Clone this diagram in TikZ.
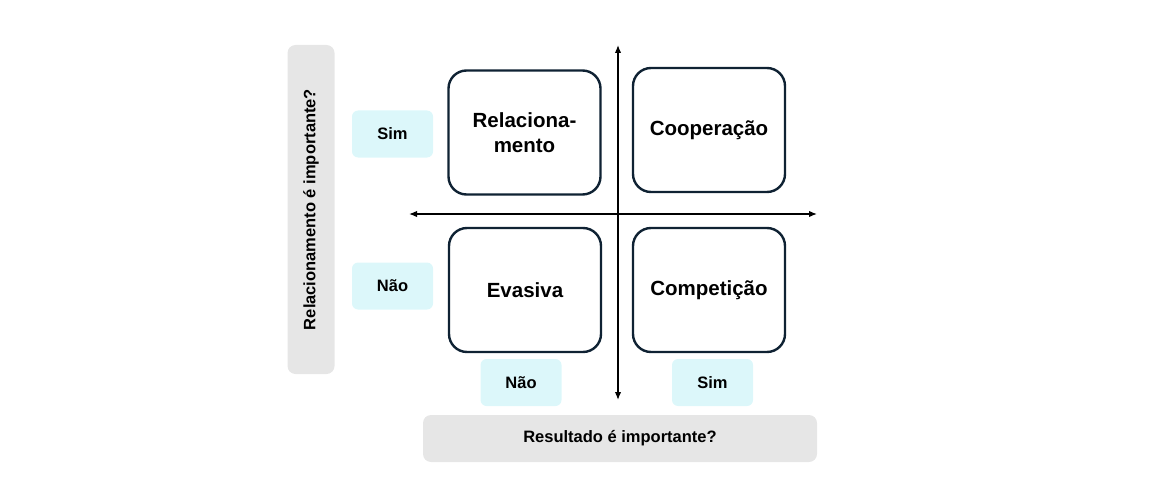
\documentclass[tikz,border=0pt]{standalone}
\usepackage{fontspec}
\setmainfont{Liberation Sans}
\usetikzlibrary{arrows.meta}
\definecolor{navy}{HTML}{0F2233}
\definecolor{graybox}{HTML}{E6E6E6}
\definecolor{cyanbox}{HTML}{DCF7FA}
\tikzset{
  quad/.style={draw=navy, line width=2.4pt, rounded corners=18pt, fill=white,
    minimum width=152pt, minimum height=124pt, align=center,
    font=\fontsize{20.5}{25}\selectfont\bfseries},
  answer/.style={fill=cyanbox, rounded corners=6pt, minimum width=81pt, minimum height=47pt,
    font=\fontsize{16.5}{20}\selectfont\bfseries},
  question/.style={fill=graybox, rounded corners=8pt,
    font=\fontsize{16.5}{20}\selectfont\bfseries},
  axis/.style={line width=1.4pt, {Latex[length=8pt,width=6.5pt]}-{Latex[length=8pt,width=6.5pt]}}
}
\begin{document}
\begin{tikzpicture}[x=1pt,y=-1pt]
\useasboundingbox (0,0) rectangle (1150,500);
% axes
\coordinate (xl) at (409,214);
\coordinate (xr) at (817,214);
\coordinate (yt) at (618,45);
\coordinate (yb) at (618,400);
\draw[axis] (xl) -- (xr);
\draw[axis] (yt) -- (yb);
% quadrants
\node[quad] (rel) at (524.5,132.5) {Relaciona-\\mento};
\node[quad] (coop) at (709,130) {Cooperação};
\node[quad] (eva) at (525,290) {Evasiva};
\node[quad] (comp) at (709,290) {Competição};
% answers
\node[answer] (simL) at (392.5,134) {Sim};
\node[answer] (naoL) at (392.5,286) {Não};
\node[answer] (naoB) at (521,382.5) {Não};
\node[answer] (simB) at (712.5,382.5) {Sim};
% questions
\node[question, minimum width=47pt, minimum height=329pt] (qrel) at (311,209.5) {};
\node[rotate=90, font=\fontsize{16.5}{20}\selectfont\bfseries] (qreltext) at (qrel.center) {Relacionamento é importante?};
\node[question, minimum width=394pt, minimum height=47pt] (qres) at (620,438.5) {Resultado é importante?};
\end{tikzpicture}
\end{document}
